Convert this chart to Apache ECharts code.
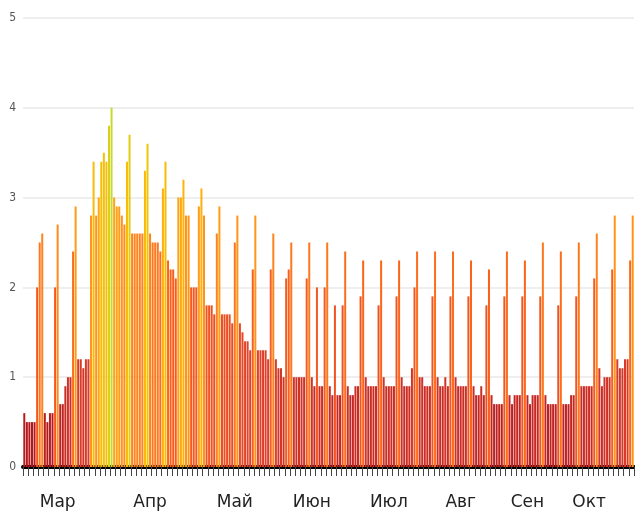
<!DOCTYPE html>
<html><head><meta charset="utf-8">
<script src="https://cdn.jsdelivr.net/npm/echarts@6/dist/echarts.min.js"></script>
</head><body style="margin:0;background:#fff">
<div id="c" style="width:635px;height:512px"></div>
<script>
// daily values (weeks of 7)
var values = [
 0.6,0.5,0.5,0.5,0.5,2.0,2.5,
 2.6,0.6,0.5,0.6,0.6,2.0,2.7,
 0.7,0.7,0.9,1.0,1.0,2.4,2.9,
 1.2,1.2,1.1,1.2,1.2,2.8,3.4,
 2.8,3.0,3.4,3.5,3.4,3.8,4.0,
 3.0,2.9,2.9,2.8,2.7,3.4,3.7,
 2.6,2.6,2.6,2.6,2.6,3.3,3.6,
 2.6,2.5,2.5,2.5,2.4,3.1,3.4,
 2.3,2.2,2.2,2.1,3.0,3.0,3.2,
 2.8,2.8,2.0,2.0,2.0,2.9,3.1,
 2.8,1.8,1.8,1.8,1.7,2.6,2.9,
 1.7,1.7,1.7,1.7,1.6,2.5,2.8,
 1.6,1.5,1.4,1.4,1.3,2.2,2.8,
 1.3,1.3,1.3,1.3,1.2,2.2,2.6,
 1.2,1.1,1.1,1.0,2.1,2.2,2.5,
 1.0,1.0,1.0,1.0,1.0,2.1,2.5,
 1.0,0.9,2.0,0.9,0.9,2.0,2.5,
 0.9,0.8,1.8,0.8,0.8,1.8,2.4,
 0.9,0.8,0.8,0.9,0.9,1.9,2.3,
 1.0,0.9,0.9,0.9,0.9,1.8,2.3,
 1.0,0.9,0.9,0.9,0.9,1.9,2.3,
 1.0,0.9,0.9,0.9,1.1,2.0,2.4,
 1.0,1.0,0.9,0.9,0.9,1.9,2.4,
 1.0,0.9,0.9,1.0,0.9,1.9,2.4,
 1.0,0.9,0.9,0.9,0.9,1.9,2.3,
 0.9,0.8,0.8,0.9,0.8,1.8,2.2,
 0.8,0.7,0.7,0.7,0.7,1.9,2.4,
 0.8,0.7,0.8,0.8,0.8,1.9,2.3,
 0.8,0.7,0.8,0.8,0.8,1.9,2.5,
 0.8,0.7,0.7,0.7,0.7,1.8,2.4,
 0.7,0.7,0.7,0.8,0.8,1.9,2.5,
 0.9,0.9,0.9,0.9,0.9,2.1,2.6,
 1.1,0.9,1.0,1.0,1.0,2.2,2.8,
 1.2,1.1,1.1,1.2,1.2,2.3,2.8
];
var monthLabels = ['Мар','Апр','Май','Июн','Июл','Авг','Сен','Окт'];
var monthLabelIdx = [13,49,82,112,142,170,196,220];
var yTicks = [0,1,2,3,4,5];

var categories = [];
var d0 = new Date(2020,2,1);
for (var i=0;i<values.length;i++){
  var d = new Date(d0.getTime()+i*86400000);
  categories.push(d.getFullYear()+'-'+(d.getMonth()+1)+'-'+d.getDate());
}

var c = echarts.init(document.getElementById('c'));
c.setOption({
  animation:false,
  grid:{left:23,right:1,top:18,bottom:45},
  visualMap:{show:false,type:'continuous',min:0.5,max:4.0,dimension:1,seriesIndex:0,
    inRange:{color:['#b3161b','#cc2e25','#e0432a','#f0521f','#fb601a','#ff8a1e','#ffb00a','#f2c400','#c6da2e']}},
  xAxis:{type:'category',data:categories,
    axisLine:{show:true,lineStyle:{color:'#000',width:4}},
    axisTick:{show:true,interval:1,inside:false,length:9,lineStyle:{color:'#444',width:1}},
    axisLabel:{
      interval:function(idx){return monthLabelIdx.indexOf(idx)>=0;},
      formatter:function(v,idx){var k=monthLabelIdx.indexOf(idx);return k>=0?monthLabels[k]:'';},
      margin:27,fontSize:17,color:'#222',fontFamily:'DejaVu Sans'
    }},
  yAxis:{type:'value',min:yTicks[0],max:yTicks[yTicks.length-1],interval:1,
    axisLine:{show:false},axisTick:{show:false},
    axisLabel:{margin:7,fontSize:12,color:'#555',fontFamily:'Liberation Sans Narrow, DejaVu Sans Condensed, sans-serif'},
    splitLine:{lineStyle:{color:'#eeeeee',width:2}}},
  series:[{type:'bar',data:values,barWidth:2}]
});
</script></body></html>
